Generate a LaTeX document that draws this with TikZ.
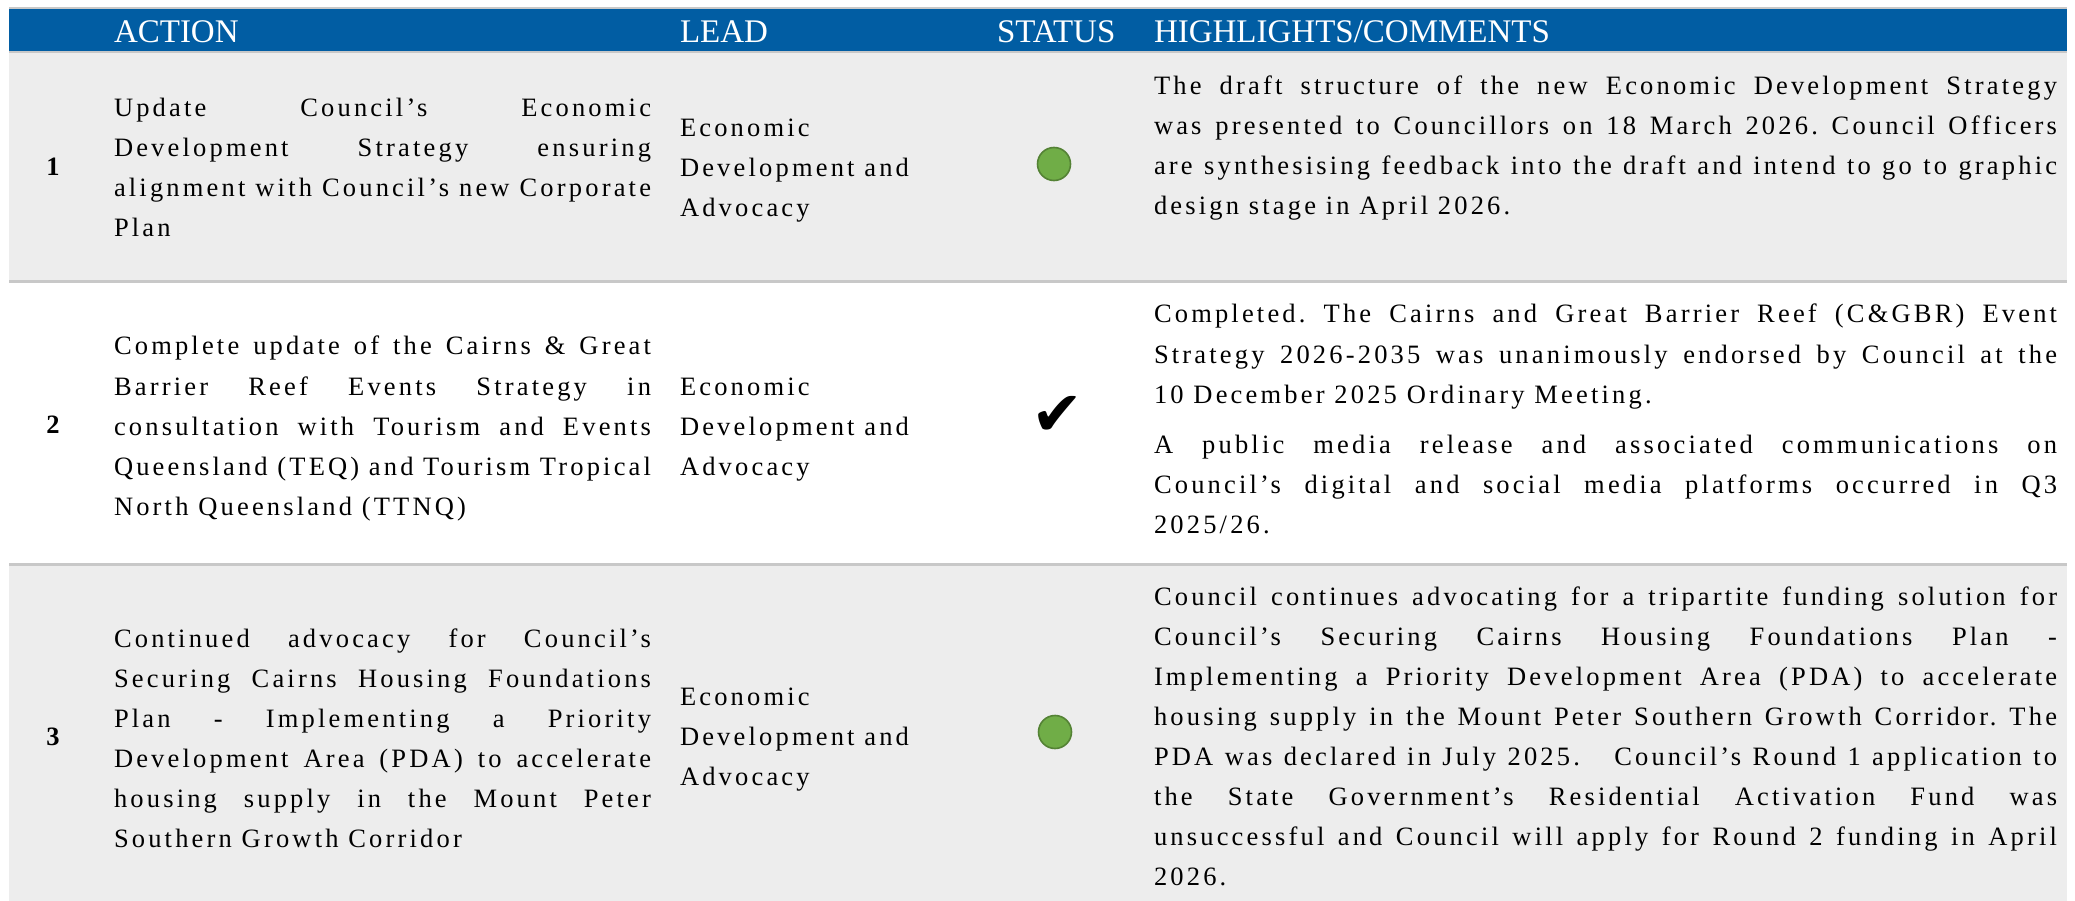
\documentclass[tikz,border=0pt]{standalone}
\usepackage{fontspec}
\setmainfont{Liberation Serif}
\newfontfamily\bodyfont[LetterSpace=12,Ligatures=TeX]{Liberation Serif}
\newfontfamily\symfont{DejaVu Sans}
\definecolor{hdrblue}{HTML}{015DA3}
\definecolor{rowgray}{HTML}{EDEDED}
\definecolor{sepgray}{HTML}{C8C8C8}
\definecolor{dotgreen}{HTML}{70AD47}
\definecolor{dotedge}{HTML}{548235}
\newcommand\jline[5]{\node[txt] (#1) at (#2,#3) {\makebox[#4pt][s]{#5}};}
\newcommand\rline[4]{\node[txt] (#1) at (#2,#3) {#4};}
\frenchspacing
\begin{document}
\frenchspacing
\begin{tikzpicture}[x=1pt,y=-1pt,
  txt/.style={anchor=base west,inner sep=0pt,outer sep=0pt,font=\bodyfont\fontsize{26.5}{40}\selectfont\frenchspacing},
  hdr/.style={anchor=base west,inner sep=0pt,outer sep=0pt,text=white,font=\fontsize{33}{38}\selectfont},
  num/.style={anchor=base,inner sep=0pt,outer sep=0pt,font=\bfseries\fontsize{26.5}{40}\selectfont},
  sep/.style={draw=sepgray,line width=3pt},
  dot/.style={circle,fill=dotgreen,draw=dotedge,line width=1.6pt,minimum size=33pt,inner sep=0pt}]
\useasboundingbox (0,0) rectangle (2075,901);
% backgrounds
\fill[hdrblue] (9,9) rectangle (2067,51);
\fill[rowgray] (9,53) rectangle (2067,280);
\fill[white] (9,283) rectangle (2067,563);
\fill[rowgray] (9,566) rectangle (2067,901);
\draw[draw=sepgray,line width=2pt] (9,8) -- (2067,8);
\draw[draw=sepgray,line width=2pt] (9,52) -- (2067,52);
\draw[sep] (9,281.5) -- (2067,281.5);
\draw[sep] (9,564.5) -- (2067,564.5);
% header
\node[hdr] (hA) at (114,43) {ACTION};
\node[hdr] (hL) at (680,43) {LEAD};
\node[hdr] (hS) at (997,43) {STATUS};
\node[hdr] (hH) at (1154,43) {HIGHLIGHTS/COMMENTS};
% row 1
\node[num] (n1) at (53,176) {1};
\jline{a1a}{114}{117}{537}{Update Council’s Economic}
\jline{a1b}{114}{157}{537}{Development Strategy ensuring}
\jline{a1c}{114}{197}{537}{alignment with Council’s new Corporate}
\rline{a1d}{114}{237}{Plan}
\rline{l1a}{680}{137}{Economic}
\rline{l1b}{680}{177}{Development and}
\rline{l1c}{680}{217}{Advocacy}
\node[dot] (s1) at (1054,164) {};
\jline{c1a}{1154}{95}{903}{The draft structure of the new Economic Development Strategy}
\jline{c1b}{1154}{135}{903}{was presented to Councillors on 18 March 2026. Council Officers}
\jline{c1c}{1154}{175}{903}{are synthesising feedback into the draft and intend to go to graphic}
\rline{c1d}{1154}{215}{design stage in April 2026.}
% row 2
\node[num] (n2) at (53,433) {2};
\jline{a2a}{114}{355}{537}{Complete update of the Cairns \& Great}
\jline{a2b}{114}{395}{537}{Barrier Reef Events Strategy in}
\jline{a2c}{114}{435}{537}{consultation with Tourism and Events}
\jline{a2d}{114}{475}{537}{Queensland (TEQ) and Tourism Tropical}
\rline{a2e}{114}{515}{North Queensland (TTNQ)}
\rline{l2a}{680}{395}{Economic}
\rline{l2b}{680}{435}{Development and}
\rline{l2c}{680}{475}{Advocacy}
\node[anchor=center,inner sep=0pt,font=\symfont\fontsize{62}{62}\selectfont] (s2) at (1057,416) {✔};
\jline{c2a}{1154}{323}{903}{Completed. The Cairns and Great Barrier Reef (C\&GBR) Event}
\jline{c2b}{1154}{363}{903}{Strategy 2026-2035 was unanimously endorsed by Council at the}
\rline{c2c}{1154}{403}{10 December 2025 Ordinary Meeting.}
\jline{c2d}{1154}{453}{903}{A public media release and associated communications on}
\jline{c2e}{1154}{493}{903}{Council’s digital and social media platforms occurred in Q3}
\rline{c2f}{1154}{533}{2025/26.}
% row 3
\node[num] (n3) at (53,745) {3};
\jline{a3a}{114}{647}{537}{Continued advocacy for Council’s}
\jline{a3b}{114}{687}{537}{Securing Cairns Housing Foundations}
\jline{a3c}{114}{727}{537}{Plan - Implementing a Priority}
\jline{a3d}{114}{767}{537}{Development Area (PDA) to accelerate}
\jline{a3e}{114}{807}{537}{housing supply in the Mount Peter}
\rline{a3f}{114}{847}{Southern Growth Corridor}
\rline{l3a}{680}{705}{Economic}
\rline{l3b}{680}{745}{Development and}
\rline{l3c}{680}{785}{Advocacy}
\node[dot] (s3) at (1055,732) {};
\jline{c3a}{1154}{605}{903}{Council continues advocating for a tripartite funding solution for}
\jline{c3b}{1154}{645}{903}{Council’s Securing Cairns Housing Foundations Plan -}
\jline{c3c}{1154}{685}{903}{Implementing a Priority Development Area (PDA) to accelerate}
\jline{c3d}{1154}{725}{903}{housing supply in the Mount Peter Southern Growth Corridor. The}
\jline{c3e}{1154}{765}{903}{PDA was declared in July 2025.\ \ \ Council’s Round 1 application to}
\jline{c3f}{1154}{805}{903}{the State Government’s Residential Activation Fund was}
\jline{c3g}{1154}{845}{903}{unsuccessful and Council will apply for Round 2 funding in April}
\rline{c3h}{1154}{885}{2026.}
\end{tikzpicture}
\end{document}
